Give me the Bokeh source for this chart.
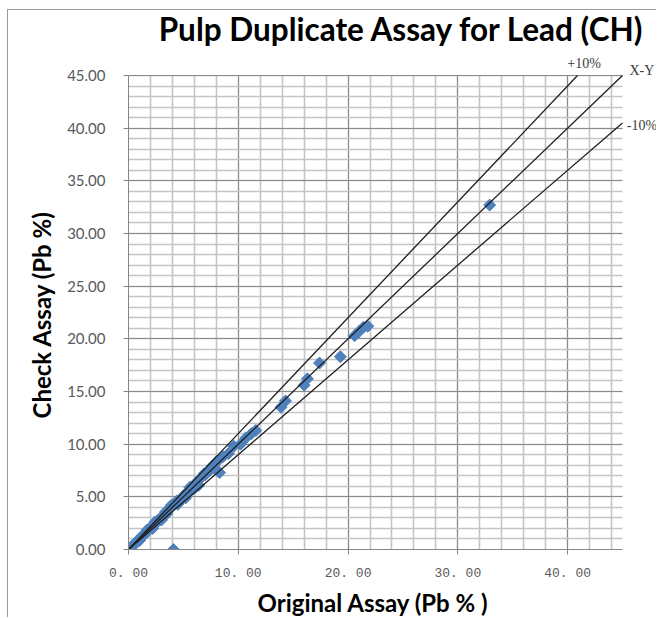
import numpy as np
from bokeh.plotting import figure
from bokeh.models import (SingleIntervalTicker, Label, Range1d, Title,
                          PrintfTickFormatter)
from bokeh.embed import file_html
from bokeh.resources import INLINE

# ---- data ----
orig_assay = [0.02, 0.05, 0.10, 0.15, 0.20, 0.30, 0.40, 0.50, 0.70, 0.90,
              1.10, 1.30, 1.50, 1.80, 2.00, 2.30, 2.60, 2.90, 3.20, 3.50,
              3.80, 4.10, 4.40, 4.70, 5.00, 5.40, 5.80, 6.20, 6.60, 7.00,
              7.40, 7.80, 8.00, 8.30, 9.10, 9.60, 10.20, 10.70, 11.20, 11.60,
              13.90, 14.30, 16.00, 16.30, 17.40, 19.30, 20.60, 21.00, 21.40,
              21.80, 32.90, 4.10, 1.0, 2.4, 3.0, 3.9, 5.2, 6.4,
              0.60, 1.70, 2.20, 3.40, 4.50, 5.60, 6.00, 6.90, 7.60, 8.10, 8.60]
check_assay = [0.02, 0.06, 0.10, 0.14, 0.22, 0.28, 0.42, 0.50, 0.72, 0.88,
               1.15, 1.25, 1.55, 1.75, 2.10, 2.25, 2.70, 2.85, 3.30, 3.40,
               3.95, 4.30, 4.60, 4.60, 5.10, 5.50, 5.70, 6.40, 6.80, 7.10,
               7.50, 7.70, 8.30, 7.30, 9.10, 9.80, 10.00, 10.60, 11.00, 11.30,
               13.50, 14.10, 15.60, 16.20, 17.70, 18.30, 20.30, 20.70, 21.10,
               21.20, 32.70, 0.00, 0.85, 2.6, 2.8, 4.2, 4.9, 6.1,
               0.55, 1.85, 2.00, 3.60, 4.30, 5.90, 5.80, 7.20, 7.90, 8.40, 8.80]
blank_x = [0.0]
blank_y = [0.0]

xy_x = [0.0, 45.0]
xy_y = [0.0, 45.0]
plus10_x = [0.0, 40.9]
plus10_y = [0.0, 45.0]
minus10_x = [0.0, 45.0]
minus10_y = [0.0, 40.5]

title_text = "Pulp Duplicate Assay for Lead (CH)"
x_title = "Original Assay (Pb % )"
y_title = "Check Assay (Pb %)"

AX_MAX = 45.0

p = figure(width=649, height=608, output_backend="svg", toolbar_location=None,
           x_range=Range1d(0, 48.19), y_range=Range1d(0, 51.17),
           min_border_left=120, min_border_right=0, min_border_top=0,
           min_border_bottom=69)
p.styles = {"margin-left": "7px", "margin-top": "9px",
            "border-left": "1px solid #9a9a9a",
            "border-top": "1px solid #9a9a9a"}
p.background_fill_color = "white"
p.border_fill_color = "white"
p.outline_line_color = None
p.title.text = ""
p.title.visible = False

# axes
p.xaxis.ticker = SingleIntervalTicker(interval=10, num_minor_ticks=5)
p.yaxis.ticker = SingleIntervalTicker(interval=5, num_minor_ticks=5)
p.xaxis.formatter = PrintfTickFormatter(format="%d. 00")
p.yaxis.formatter = PrintfTickFormatter(format="%.2f")
for ax in (p.xaxis, p.yaxis):
    ax.bounds = (0, AX_MAX)
    ax.axis_line_color = "#868686"
    ax.major_tick_line_color = "#868686"
    ax.major_tick_in = 0
    ax.major_tick_out = 5
    ax.minor_tick_line_color = None
    ax.major_label_text_color = "#595959"
p.xaxis.major_label_text_font = "Liberation Mono"
p.xaxis.major_label_text_font_size = "13px"
p.xaxis.major_label_standoff = 11
p.yaxis.major_label_text_font = "Lato"
p.yaxis.major_label_text_font_size = "15px"
p.yaxis.major_label_standoff = 18

lab_title_kw = dict(text_font="Lato", text_font_style="bold",
                    text_font_size="24px", text_color="#000000", align="left")
p.add_layout(Title(text=x_title, offset=129, standoff=4, **lab_title_kw), "below")
p.add_layout(Title(text=y_title, offset=131, standoff=18, **lab_title_kw), "left")

# grids
for g in (p.xgrid, p.ygrid):
    g.grid_line_color = "#8a8a8a"
    g.grid_line_width = 1
    g.minor_grid_line_color = "#c4c4c4"
    g.minor_grid_line_width = 1.6
    g.level = "underlay"

# white masks hiding grid outside 0..45
p.quad(left=[AX_MAX], right=[60], bottom=[-5], top=[60],
       fill_color="white", line_color=None)
p.quad(left=[-5], right=[60], bottom=[AX_MAX + 0.05], top=[60],
       fill_color="white", line_color=None)

# points
p.scatter(blank_x, blank_y, marker="square", size=11, color="#C0504D")
p.scatter(orig_assay, check_assay, marker="square", angle=np.pi / 4, size=8.5,
          color="#4F81BD")

# reference lines
for lx, ly in ((xy_x, xy_y), (plus10_x, plus10_y), (minus10_x, minus10_y)):
    p.line(lx, ly, line_color="#1e1e1e", line_width=1.3)

# chart title (drawn inside the blank band above the grid)
p.add_layout(Label(x=2.75, y=49.4, text=title_text, text_font="Lato",
                   text_font_style="bold", text_font_size="31.5px",
                   text_color="#000000", text_align="left",
                   text_baseline="alphabetic"))

lab_kw = dict(text_font="Liberation Serif", text_font_size="14px",
              text_color="#3a3a3a", text_baseline="middle")
p.add_layout(Label(x=41.5, y=46.14, text="+10%", text_align="center", **lab_kw))
p.add_layout(Label(x=45.64, y=45.48, text="X-Y", text_align="left", **lab_kw))
p.add_layout(Label(x=45.4, y=40.25, text="-10%", text_align="left", **lab_kw))

open("out.html", "w").write(file_html(p, INLINE))
